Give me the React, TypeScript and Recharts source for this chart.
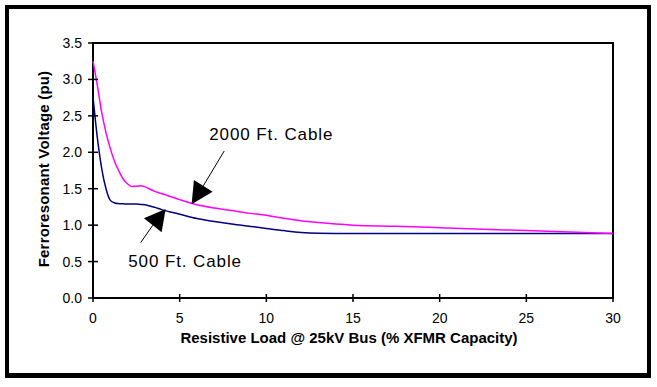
import React from 'react';
import { LineChart, Line, XAxis, YAxis, ReferenceArea, ReferenceDot } from 'recharts';

const loadPct = [0, 0.25, 0.5, 0.75, 1, 1.25, 1.5, 1.75, 2, 2.25, 2.5, 2.75, 3, 3.25, 3.5, 4, 5, 6, 7, 8, 9, 10, 11, 12, 13, 14, 15, 17.5, 20, 22.5, 25, 27.5, 30];
const cable2000 = [3.25, 2.92, 2.55, 2.27, 2.05, 1.87, 1.74, 1.63, 1.565, 1.532, 1.533, 1.54, 1.525, 1.5, 1.47, 1.43, 1.35, 1.28, 1.235, 1.2, 1.165, 1.135, 1.095, 1.06, 1.035, 1.015, 1.0, 0.985, 0.965, 0.945, 0.925, 0.905, 0.887];
const cable500 = [2.76, 2.2, 1.78, 1.5, 1.34, 1.305, 1.295, 1.292, 1.29, 1.29, 1.29, 1.285, 1.28, 1.265, 1.25, 1.21, 1.15, 1.09, 1.05, 1.015, 0.985, 0.955, 0.925, 0.9, 0.889, 0.887, 0.887, 0.887, 0.887, 0.887, 0.887, 0.887, 0.887];
const xTicks = [0, 5, 10, 15, 20, 25, 30];
const yTicks = [0, 0.5, 1, 1.5, 2, 2.5, 3, 3.5];
const seriesNames = ['2000 Ft. Cable', '500 Ft. Cable'];
const annotationTips2000 = { x: 5.69, y: 1.286 };
const annotationTips500 = { x: 4.19, y: 1.222 };

const data = loadPct.map((x, i) => ({ x, c2000: cable2000[i], c500: cable500[i] }));

const FONT = 'Arial, "Liberation Sans", sans-serif';

const YTick = (props: any) => {
  const { x, y, payload } = props;
  return (
    <g>
      <line x1={x - 5} x2={x + 5} y1={y} y2={y} stroke="#000" strokeWidth={1.5} />
      <text x={x - 11} y={y + 5} textAnchor="end" fontSize={14} fontFamily={FONT} fill="#000">
        {Number(payload.value).toFixed(1)}
      </text>
    </g>
  );
};

const XTick = (props: any) => {
  const { x, y, payload } = props;
  return (
    <g>
      <line x1={x} x2={x} y1={y - 4} y2={y + 4} stroke="#000" strokeWidth={1.5} />
      <text x={x} y={y + 25} textAnchor="middle" fontSize={14} fontFamily={FONT} fill="#000">
        {payload.value}
      </text>
    </g>
  );
};

const Arrow2000 = (props: any) => {
  const { cx, cy } = props;
  return (
    <g>
      <line x1={cx + 11.7} y1={cy - 18.5} x2={cx + 32.6} y2={cy - 53.3} stroke="#000" strokeWidth={1} />
      <polygon points={`${cx},${cy} ${cx + 2.3},${cy - 24.3} ${cx + 21},${cy - 12.6}`} fill="#000" />
      <text x={cx + 17.6} y={cy - 64.3} fontSize={17} letterSpacing={0.9} fontFamily={FONT} fill="#000">
        {seriesNames[0]}
      </text>
    </g>
  );
};

const Arrow500 = (props: any) => {
  const { cx, cy } = props;
  return (
    <g>
      <line x1={cx - 12.85} y1={cy + 16.3} x2={cx - 25} y2={cy + 33.7} stroke="#000" strokeWidth={1} />
      <polygon points={`${cx},${cy} ${cx - 21.7},${cy + 9.3} ${cx - 4},${cy + 23.3}`} fill="#000" />
      <text x={cx - 37.4} y={cy + 57.7} fontSize={17} letterSpacing={0.9} fontFamily={FONT} fill="#000">
        {seriesNames[1]}
      </text>
    </g>
  );
};

const XLabel = (props: any) => {
  const { viewBox } = props;
  const { x, y, width } = viewBox;
  return (
    <text x={x + width / 2 - 4} y={y + 44.5} textAnchor="middle" fontSize={15} fontWeight="bold" fontFamily={FONT} fill="#000">
      Resistive Load @ 25kV Bus (% XFMR Capacity)
    </text>
  );
};

const YLabel = (props: any) => {
  const { viewBox } = props;
  const { x, y, height } = viewBox;
  const cx = x + 16;
  const cy = y + height / 2 - 1.5;
  return (
    <text x={cx} y={cy} transform={`rotate(-90, ${cx}, ${cy})`} textAnchor="middle" fontSize={15} letterSpacing={0.2} fontWeight="bold" fontFamily={FONT} fill="#000">
      Ferroresonant Voltage (pu)
    </text>
  );
};

export default function App() {
  return (
    <div style={{ position: 'absolute', left: 0, top: 0, width: 657, height: 387, background: '#fff' }}>
      <div
        style={{
          position: 'absolute',
          left: 5,
          top: 5,
          width: 646,
          height: 373,
          boxSizing: 'border-box',
          border: '4px solid #000',
          borderBottomWidth: 5,
        }}
      />
      <div style={{ position: 'absolute', left: 0, top: 0 }}>
        <LineChart width={657} height={387} data={data} margin={{ top: 43, right: 44, bottom: 29, left: 33 }}>
          <XAxis
            dataKey="x"
            type="number"
            domain={[0, 30]}
            ticks={xTicks}
            axisLine={false}
            tickLine={false}
            tickSize={0}
            tickMargin={0}
            height={60}
            tick={<XTick />}
            interval={0}
            label={<XLabel />}
          />
          <YAxis
            type="number"
            domain={[0, 3.5]}
            ticks={yTicks}
            axisLine={false}
            tickLine={false}
            tickSize={0}
            tickMargin={0}
            width={60}
            tick={<YTick />}
            interval={0}
            label={<YLabel />}
          />
          <ReferenceArea x1={0} x2={30} y1={0} y2={3.5} fill="none" stroke="#000" strokeWidth={2} ifOverflow="visible" />
          <Line type="monotone" dataKey="c500" stroke="#000080" strokeWidth={1.5} dot={false} isAnimationActive={false} />
          <Line type="monotone" dataKey="c2000" stroke="#FF00FF" strokeWidth={1.5} dot={false} isAnimationActive={false} />
          <ReferenceDot x={annotationTips2000.x} y={annotationTips2000.y} ifOverflow="visible" shape={(p: any) => <Arrow2000 {...p} />} />
          <ReferenceDot x={annotationTips500.x} y={annotationTips500.y} ifOverflow="visible" shape={(p: any) => <Arrow500 {...p} />} />
        </LineChart>
      </div>
    </div>
  );
}
